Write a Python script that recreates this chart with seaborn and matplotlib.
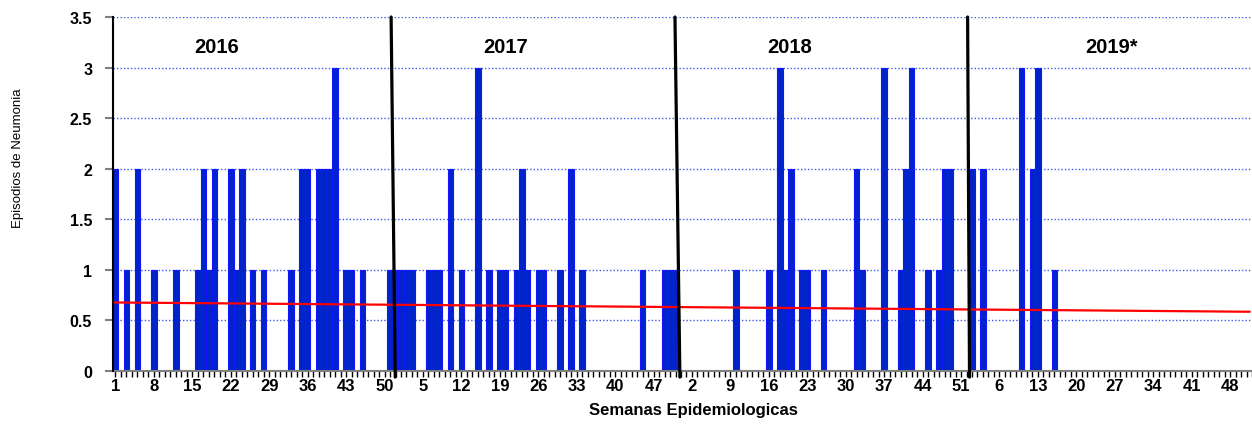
import numpy as np
import pandas as pd
import matplotlib
matplotlib.use("Agg")
import matplotlib.pyplot as plt
import seaborn as sns

# ---------------- data (episodes per epidemiological week) ----------------
anios = ["2016", "2017", "2018", "2019*"]

casos_2016 = [2, 0, 1, 0, 2, 0, 0, 1, 0, 0, 0, 1, 0, 0, 0, 1, 2, 1, 2, 0,
              0, 2, 1, 2, 0, 1, 0, 1, 0, 0, 0, 0, 1, 0, 2, 2, 0, 2, 2, 2,
              3, 0, 1, 1, 0, 1, 0, 0, 0, 0, 1, 1]
casos_2017 = [1, 1, 1, 0, 0, 1, 1, 1, 0, 2, 0, 1, 0, 0, 3, 0, 1, 0, 1, 1,
              0, 1, 2, 1, 0, 1, 1, 0, 0, 1, 0, 2, 0, 1, 0, 0, 0, 0, 0, 0,
              0, 0, 0, 0, 1, 0, 0, 0, 1, 1, 1, 0]
casos_2018 = [0, 0, 0, 0, 0, 0, 0, 0, 0, 1, 0, 0, 0, 0, 0, 1, 0, 3, 1, 2,
              0, 1, 1, 0, 0, 1, 0, 0, 0, 0, 0, 2, 1, 0, 0, 0, 3, 0, 0, 1,
              2, 3, 0, 0, 1, 0, 1, 2, 2, 0, 0, 0]
casos_2019 = [2, 0, 2, 0, 0, 0, 0, 0, 0, 3, 0, 2, 3, 0, 0, 1, 0, 0, 0, 0,
              0, 0, 0, 0, 0, 0, 0, 0, 0, 0, 0, 0, 0, 0, 0, 0, 0, 0, 0, 0,
              0, 0, 0, 0, 0, 0, 0, 0, 0, 0, 0, 0]
ultima_semana_reportada_2019 = 16

semanas = list(range(1, 53))
valores = casos_2016 + casos_2017 + casos_2018 + casos_2019
df = pd.DataFrame({
    "pos": np.arange(len(valores)),
    "semana": semanas * 4,
    "valor": valores,
})
n_reportado = 52 * 3 + ultima_semana_reportada_2019
df_rep = df.iloc[:n_reportado]

# year separators (top x, bottom x) in week-position units, and year label positions
separadores = [(50.2, 50.95), (101.9, 102.8), (155.2, 155.55)]
pos_anios = [18.5, 71.0, 122.8, 181.4]

# ---------------- style ----------------
sns.set_theme(style="white")
plt.rcParams["font.family"] = ["Liberation Sans", "DejaVu Sans"]
plt.rcParams["text.color"] = "black"

fig = plt.figure(figsize=(12.52, 4.35), dpi=100)
ax = fig.add_axes([113 / 1252, 1 - 372 / 435, (1252 - 113) / 1252, (372 - 18) / 435])

sns.barplot(data=df, x="pos", y="valor", width=1.0, color="#0024c8",
            edgecolor="#1414ff", linewidth=0.8, saturation=1,
            errorbar=None, ax=ax, zorder=2)
for p in ax.patches:
    if p.get_height() == 0:
        p.set_visible(False)

xlim = (-0.4545, 206.6)
ax.set_xlim(*xlim)
ax.set_ylim(0, 3.5)

sns.regplot(x=df_rep["pos"], y=df_rep["valor"], scatter=False, ci=None,
            truncate=False, color="#ff0000", line_kws=dict(lw=1.6, zorder=3), ax=ax)
ax.set_xlim(*xlim)
ax.set_ylim(0, 3.5)

# ticks
ax.set_xticks(df["pos"])
ax.set_xticklabels([str(s) if i % 7 == 0 else "" for i, s in enumerate(df["semana"])],
                   fontweight="bold", fontsize=12)
ax.tick_params(axis="x", bottom=True, length=4, width=1, color="black", pad=1,
               labelcolor="black")

yt = np.arange(0, 3.51, 0.5)
ax.set_yticks(yt)
ax.set_yticklabels([f"{v:g}" for v in yt], fontweight="bold", fontsize=11.5)
ax.tick_params(axis="y", left=True, length=6, width=1.5, color="#808080", pad=9,
               labelcolor="black")

ax.yaxis.grid(True, color="#3d5ce6", linestyle=(0, (1, 1.5)), linewidth=1)
ax.xaxis.grid(False)
ax.set_axisbelow(True)

for s in ["top", "right"]:
    ax.spines[s].set_visible(False)
ax.spines["left"].set_color("black")
ax.spines["left"].set_linewidth(1.5)
ax.spines["left"].set_zorder(5)
ax.spines["bottom"].set_color("#808080")
ax.spines["bottom"].set_linewidth(1.5)

ax.set_xlabel("")
ax.set_ylabel("")

for (xt, xb) in separadores:
    ax.plot([xt, xb], [3.5, -0.06], color="black", lw=2.3, clip_on=False, zorder=6)

for x, lab in zip(pos_anios, anios):
    ax.text(x, 3.21, lab, ha="center", va="center", fontsize=14.5, fontweight="bold",
            color="black", zorder=7)

fig.text(693 / 1252, 1 - 411 / 435, "Semanas Epidemiologicas", ha="center", va="center",
         fontsize=12, fontweight="bold", color="black")
fig.text(18 / 1252, 1 - 158 / 435, "Episodios de Neumonia", ha="center", va="center",
         rotation=90, fontsize=9.5, color="black")

fig.savefig("out.png", dpi=100)
